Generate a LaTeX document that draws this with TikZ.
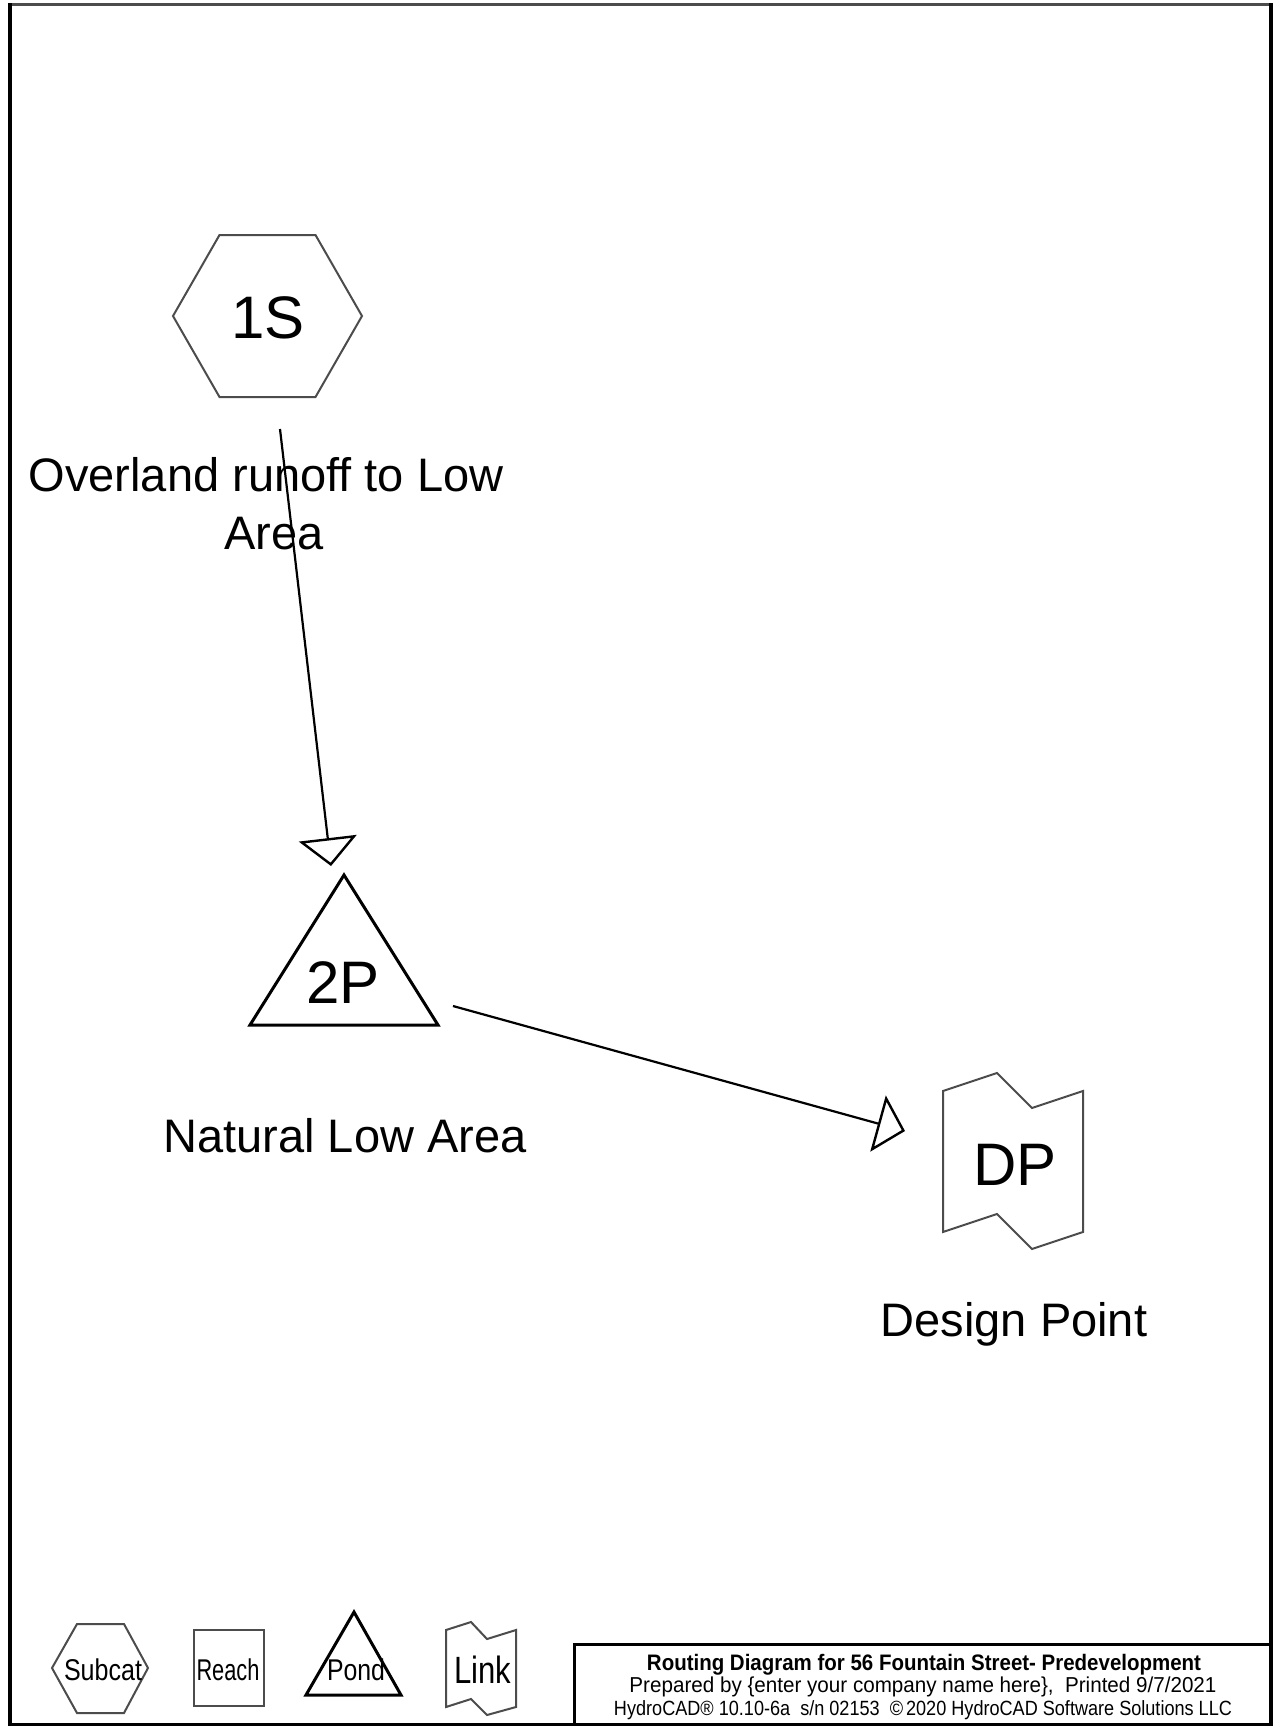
\documentclass[tikz,border=0pt]{standalone}
\usepackage{fontspec}
\setmainfont{Liberation Sans}
\usepackage{graphicx}
\usetikzlibrary{arrows.meta}
\newcommand\fitw[2]{\resizebox{#1}{\height}{#2}}
\begin{document}
\begin{tikzpicture}[x=0.5pt,y=-0.5pt,
  shp/.style={draw=black!70,line width=1pt,line join=miter},
  pondshp/.style={draw=black,line width=1.5pt,line join=miter},
  idtxt/.style={inner sep=0pt,anchor=base,font=\fontsize{30}{36}\selectfont},
  lbl/.style={inner sep=0pt,anchor=base,align=center,font=\fontsize{23.5}{29}\selectfont},
  legtxt/.style={inner sep=0pt,anchor=base,font=\fontsize{15}{18}\selectfont},
  titletxt/.style={inner sep=0pt,anchor=base},
  flow/.style={draw=black,line width=1.1pt,-{Triangle[open,length=14pt,width=29pt,line width=1.2pt]}}]
\useasboundingbox (0,0) rectangle (1274,1726);
\fill[white] (0,0) rectangle (1274,1726);
% frame
\draw[black!70,line width=1.5pt] (10,4.5) -- (1271,4.5);
\draw[black,line width=2pt] (10,3) -- (10,1724.5) -- (1271,1724.5) -- (1271,3);
% 1S subcatchment
\draw[shp] (173,316) -- (219.5,235) -- (315.5,235) -- (362,316) -- (315.5,397) -- (219.5,397) -- cycle;
\node[idtxt] (s1) at (268,338) {1S};
\node[lbl] (s1lbl) at (266,549) {Overland runoff to Low\\\hspace*{8pt}Area};
% 2P pond
\draw[pondshp] (344,875) -- (438,1025) -- (250,1025) -- cycle;
\node[idtxt] (p2) at (343,1003) {2P};
\node[lbl] (p2lbl) at (345,1152) {Natural Low Area};
% DP link
\draw[shp] (943,1091) -- (997,1073) -- (1032,1108) -- (1083,1091) -- (1083,1232) -- (1032,1249) -- (997,1214) -- (943,1232) -- cycle;
\node[idtxt] (dp) at (1015,1185) {DP};
\node[lbl] (dplbl) at (1014,1336) {Design Point};
% connectors
\coordinate (s1out) at (280,429);
\coordinate (p2in) at (331,866);
\draw[flow] (s1out) -- (p2in);
\coordinate (p2out) at (453,1006);
\coordinate (dpin) at (905,1131);
\draw[flow] (p2out) -- (dpin);
% legend
\draw[shp] (52,1668) -- (77,1624) -- (124,1624) -- (148,1668) -- (124,1713) -- (77,1713) -- cycle;
\node[legtxt] (legsub) at (103,1680) {\fitw{39pt}{Subcat}};
\draw[shp] (194,1630) rectangle (264,1706);
\node[legtxt] (legreach) at (228,1680) {\fitw{31.5pt}{Reach}};
\draw[pondshp] (354,1612) -- (401,1695) -- (306,1695) -- cycle;
\node[legtxt] (legpond) at (356,1680) {\fitw{29pt}{Pond}};
\draw[shp] (446,1630) -- (471,1622) -- (487,1639) -- (516,1630) -- (516,1707) -- (487,1715) -- (471,1699) -- (446,1707) -- cycle;
\node[legtxt,font=\fontsize{19}{22}\selectfont] (leglink) at (483,1683) {\fitw{28.5pt}{Link}};
% title box
\draw[black,line width=1.5pt] (574,1724.5) -- (574,1644) -- (1271,1644);
\node[titletxt,font=\fontsize{11.2}{13}\selectfont\bfseries] (t1) at (924,1670) {\fitw{277pt}{Routing Diagram for 56 Fountain Street- Predevelopment}};
\node[titletxt,font=\fontsize{10.8}{12}\selectfont] (t2) at (923,1692) {\fitw{293.5pt}{Prepared by \{enter your company name here\},\ \ Printed 9/7/2021}};
\node[titletxt,font=\fontsize{10.3}{12}\selectfont] (t3) at (923,1715) {\fitw{309pt}{HydroCAD® 10.10-6a\ \ s/n 02153\ \ ©\,2020 HydroCAD Software Solutions LLC}};
\end{tikzpicture}
\end{document}
